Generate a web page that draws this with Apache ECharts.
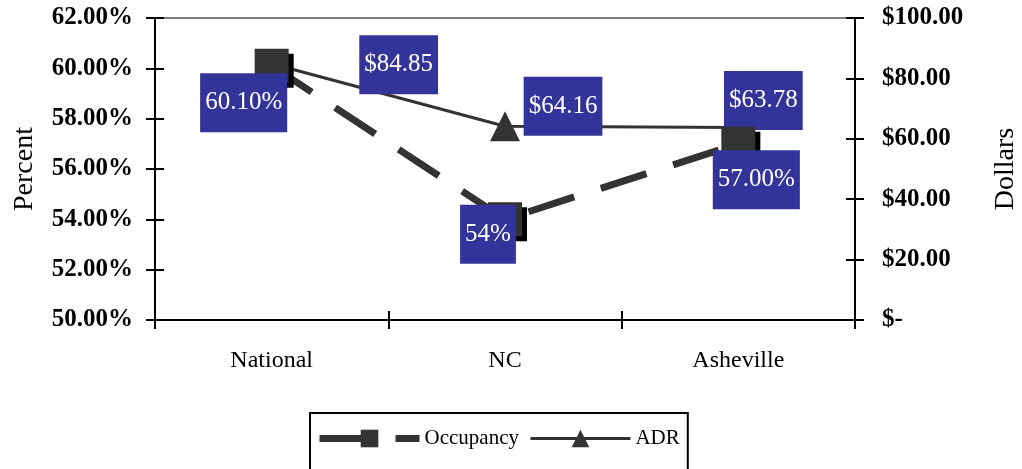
<!DOCTYPE html>
<html>
<head>
<meta charset="utf-8">
<script src="https://cdn.jsdelivr.net/npm/echarts@6/dist/echarts.min.js"></script>
<style>
html,body{margin:0;padding:0;background:#fff;}
#chart{width:1022px;height:469px;}
</style>
</head>
<body>
<div id="chart"></div>
<script>
const categories = ['National', 'NC', 'Asheville'];
const occupancy = [60.10, 54, 57.00];
const occupancyLabels = ['60.10%', '54%', '57.00%'];
const adr = [84.85, 64.16, 63.78];
const percentTicks = { min: 50, max: 62, interval: 2 };
const dollarTicks = { min: 0, max: 100, interval: 20 };

// label placement (style, not data)
const occOffsets = [[-28, 37], [-17, 15], [18, 36]];
const adrOffsets = [[127, 1], [58, -20], [25, -27]];

const FONT = 'Liberation Serif';
const chart = echarts.init(document.getElementById('chart'), null, { renderer: 'canvas' });

const tickFont = { fontFamily: FONT, fontSize: 25, color: '#000', fontWeight: 'bold' };
const axisLineStyle = { color: '#000', width: 2 };

const labelBase = {
  show: true,
  position: 'inside',
  backgroundColor: '#333399',
  color: '#fff',
  fontFamily: FONT,
  fontSize: 25,
  padding: [17, 5]
};

const occLine = { color: '#333333', width: 7, type: [48, 28] };
const adrLine = { color: '#333333', width: 3 };

chart.setOption({
  animation: false,
  backgroundColor: '#fff',
  grid: { left: 155, right: 167, top: 18, bottom: 149, containLabel: false, outerBoundsMode: 'none' },
  legend: {
    data: [
      { name: 'Occupancy', lineStyle: occLine },
      { name: 'ADR', lineStyle: adrLine }
    ],
    left: 310,
    top: 413,
    orient: 'horizontal',
    padding: [15, 8, 40, 6],
    itemGap: 10,
    itemWidth: 100,
    itemHeight: 22,
    borderColor: '#000',
    borderWidth: 2,
    textStyle: { fontFamily: FONT, fontSize: 21, color: '#000' }
  },
  xAxis: [
    {
      type: 'category', data: categories, boundaryGap: true,
      axisLine: { show: true, lineStyle: axisLineStyle },
      axisTick: { show: true, length: 9, lineStyle: axisLineStyle },
      axisLabel: { margin: 29, fontFamily: FONT, fontSize: 24, color: '#000' },
      splitLine: { show: false }
    },
    {
      type: 'category', data: categories, boundaryGap: true, position: 'bottom',
      axisLine: { show: false },
      axisTick: { show: true, inside: true, length: 9, lineStyle: axisLineStyle },
      axisLabel: { show: false }, splitLine: { show: false }
    },
    {
      type: 'category', data: categories, boundaryGap: true, position: 'top',
      axisLine: { show: true, lineStyle: { color: '#808080', width: 2 } },
      axisTick: { show: false }, axisLabel: { show: false }, splitLine: { show: false }
    }
  ],
  yAxis: [
    {
      type: 'value', position: 'left',
      min: percentTicks.min, max: percentTicks.max, interval: percentTicks.interval,
      name: 'Percent', nameLocation: 'middle', nameGap: 116, nameRotate: 90,
      nameTextStyle: { fontFamily: FONT, fontSize: 28, color: '#000' },
      axisLine: { show: true, lineStyle: axisLineStyle },
      axisTick: { show: true, length: 9, lineStyle: axisLineStyle },
      axisLabel: Object.assign({ margin: 22, formatter: v => v.toFixed(2) + '%' }, tickFont),
      splitLine: { show: false }
    },
    {
      type: 'value', position: 'right',
      min: dollarTicks.min, max: dollarTicks.max, interval: dollarTicks.interval,
      name: 'Dollars', nameLocation: 'middle', nameGap: 137, nameRotate: 90,
      nameTextStyle: { fontFamily: FONT, fontSize: 28, color: '#000' },
      axisLine: { show: true, lineStyle: axisLineStyle },
      axisTick: { show: true, length: 9, lineStyle: axisLineStyle },
      axisLabel: Object.assign({ margin: 27, formatter: v => v === 0 ? '$-' : '$' + v.toFixed(2) }, tickFont),
      splitLine: { show: false }
    },
    {
      type: 'value', position: 'left',
      min: percentTicks.min, max: percentTicks.max, interval: percentTicks.interval,
      axisLine: { show: false },
      axisTick: { show: true, inside: true, length: 9, lineStyle: axisLineStyle },
      axisLabel: { show: false }, splitLine: { show: false }
    },
    {
      type: 'value', position: 'right',
      min: dollarTicks.min, max: dollarTicks.max, interval: dollarTicks.interval,
      axisLine: { show: false },
      axisTick: { show: true, inside: true, length: 9, lineStyle: axisLineStyle },
      axisLabel: { show: false }, splitLine: { show: false }
    }
  ],
  series: [
    {
      name: 'ADR', type: 'line', xAxisIndex: 0, yAxisIndex: 1, z: 2,
      symbol: 'triangle', symbolSize: 30,
      lineStyle: adrLine,
      itemStyle: { color: '#333333' },
      label: Object.assign({}, labelBase, { formatter: p => '$' + p.value.toFixed(2) }),
      data: adr.map((v, i) => ({ value: v, label: { offset: adrOffsets[i] } }))
    },
    {
      name: 'Occupancy', type: 'line', xAxisIndex: 0, yAxisIndex: 0, z: 3,
      symbol: 'rect', symbolSize: 34,
      lineStyle: occLine,
      itemStyle: { color: '#333333', shadowColor: '#000', shadowOffsetX: 5, shadowOffsetY: 5, shadowBlur: 0 },
      label: Object.assign({}, labelBase, { formatter: p => occupancyLabels[p.dataIndex] }),
      data: occupancy.map((v, i) => ({ value: v, label: { offset: occOffsets[i] } }))
    }
  ]
});
</script>
</body>
</html>
